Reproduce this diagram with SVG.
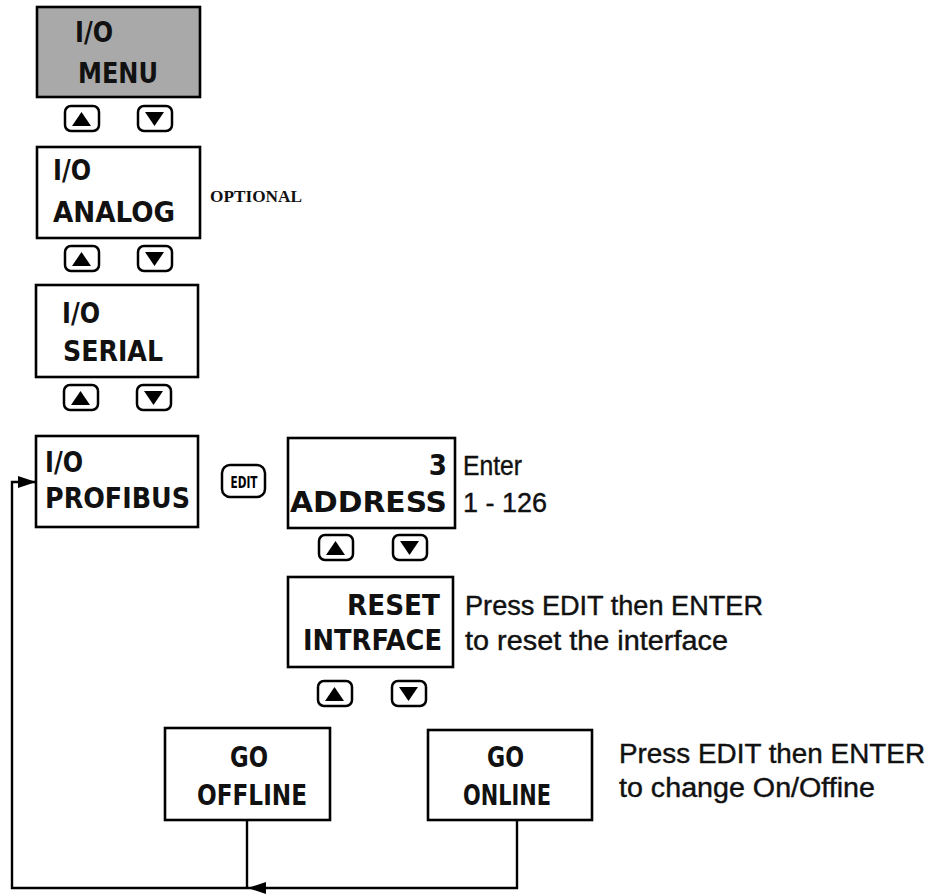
<svg xmlns="http://www.w3.org/2000/svg" xmlns:xlink="http://www.w3.org/1999/xlink" width="927" height="894" viewBox="0 0 927 894">
<style>
.box{fill:#fff;stroke:#000;stroke-width:2.6}
.lcd{font-family:"DejaVu Sans Condensed","DejaVu Sans",sans-serif;font-weight:bold;font-stretch:condensed;font-size:29px;fill:#111}
.note{font-family:"Liberation Sans",Arial,sans-serif;font-size:27px;fill:#111;stroke:#111;stroke-width:0.4}
.btn{fill:#fff;stroke:#000;stroke-width:2.5}
.wire{fill:none;stroke:#000;stroke-width:2.4}
</style>
<defs>
<g id="up"><rect class="btn" x="1" y="1" width="34" height="25" rx="6"/><polygon points="8,21 17.5,7 27,21" fill="#000"/></g>
<g id="down"><rect class="btn" x="1" y="1" width="34" height="25" rx="6"/><polygon points="8,7 27,7 17.5,21" fill="#000"/></g>
<marker id="arr" viewBox="0 0 18 12" refX="18" refY="6" markerWidth="18" markerHeight="12" markerUnits="userSpaceOnUse" orient="auto"><polygon points="0,0 18,6 0,12" fill="#000"/></marker>
</defs>
<rect width="927" height="894" fill="#fff"/>

<g id="menu">
<rect x="37" y="7" width="163" height="90" fill="#a9a9a9" stroke="#000" stroke-width="2.6"/>
<text class="lcd" x="75" y="42" textLength="38" lengthAdjust="spacingAndGlyphs">I/O</text>
<text class="lcd" x="78" y="83" textLength="80" lengthAdjust="spacingAndGlyphs">MENU</text>
</g>
<g id="buttons1"><use xlink:href="#up" x="64" y="105"/><use xlink:href="#down" x="137" y="105"/></g>

<g id="analog">
<rect class="box" x="37" y="147" width="163" height="91"/>
<text class="lcd" x="53" y="180" textLength="38" lengthAdjust="spacingAndGlyphs">I/O</text>
<text class="lcd" x="53" y="222" textLength="122" lengthAdjust="spacingAndGlyphs">ANALOG</text>
</g>
<text x="210" y="202" font-family="Liberation Serif,serif" font-weight="bold" font-size="16" textLength="92" lengthAdjust="spacingAndGlyphs" fill="#111">OPTIONAL</text>
<g id="buttons2"><use xlink:href="#up" x="64" y="245"/><use xlink:href="#down" x="137" y="245"/></g>

<g id="serial">
<rect class="box" x="36" y="285" width="162" height="92"/>
<text class="lcd" x="62" y="323" textLength="38" lengthAdjust="spacingAndGlyphs">I/O</text>
<text class="lcd" x="63" y="361" textLength="100" lengthAdjust="spacingAndGlyphs">SERIAL</text>
</g>
<g id="buttons3"><use xlink:href="#up" x="63" y="384"/><use xlink:href="#down" x="136" y="384"/></g>

<g id="profibus">
<rect class="box" x="36" y="436" width="162" height="91"/>
<text class="lcd" x="45" y="472" textLength="38" lengthAdjust="spacingAndGlyphs">I/O</text>
<text class="lcd" x="45" y="508" textLength="145" lengthAdjust="spacingAndGlyphs">PROFIBUS</text>
</g>

<g id="edit">
<rect class="btn" x="222" y="465" width="43" height="32" rx="8"/>
<text x="244" y="488" text-anchor="middle" font-family="DejaVu Sans Condensed,DejaVu Sans,sans-serif" font-weight="bold" font-size="16" textLength="27" lengthAdjust="spacingAndGlyphs" fill="#000">EDIT</text>
</g>

<g id="address">
<rect class="box" x="288" y="438" width="167" height="90"/>
<text class="lcd" x="447" y="475" text-anchor="end">3</text>
<text class="lcd" x="290" y="512" textLength="157" lengthAdjust="spacingAndGlyphs">ADDRESS</text>
</g>
<text class="note" x="463" y="475" textLength="59" lengthAdjust="spacingAndGlyphs">Enter</text>
<text class="note" x="463" y="512" textLength="84" lengthAdjust="spacingAndGlyphs">1 - 126</text>
<g id="buttons4"><use xlink:href="#up" x="318" y="534"/><use xlink:href="#down" x="392" y="534"/></g>

<g id="reset">
<rect class="box" x="288" y="577" width="165" height="90"/>
<text class="lcd" x="347" y="615" textLength="93" lengthAdjust="spacingAndGlyphs">RESET</text>
<text class="lcd" x="303" y="650" textLength="139" lengthAdjust="spacingAndGlyphs">INTRFACE</text>
</g>
<text class="note" x="465" y="615" textLength="298" lengthAdjust="spacingAndGlyphs">Press EDIT then ENTER</text>
<text class="note" x="465" y="650" textLength="263" lengthAdjust="spacingAndGlyphs">to reset the interface</text>
<g id="buttons5"><use xlink:href="#up" x="317" y="680"/><use xlink:href="#down" x="391" y="680"/></g>

<g id="offline">
<rect class="box" x="165" y="728" width="165" height="92"/>
<text class="lcd" x="230" y="767" textLength="38" lengthAdjust="spacingAndGlyphs">GO</text>
<text class="lcd" x="197" y="805" textLength="110" lengthAdjust="spacingAndGlyphs">OFFLINE</text>
</g>

<g id="online">
<rect class="box" x="428" y="730" width="164" height="90"/>
<text class="lcd" x="487" y="767" textLength="37" lengthAdjust="spacingAndGlyphs">GO</text>
<text class="lcd" x="463" y="805" textLength="88" lengthAdjust="spacingAndGlyphs">ONLINE</text>
</g>
<text class="note" x="619" y="763" textLength="306" lengthAdjust="spacingAndGlyphs">Press EDIT then ENTER</text>
<text class="note" x="619" y="797" textLength="256" lengthAdjust="spacingAndGlyphs">to change On/Offine</text>

<g id="connectors">
<path class="wire" d="M517,820 V888 H248" marker-end="url(#arr)"/>
<path class="wire" d="M247,820 V888"/>
<path class="wire" d="M248,888 H12 V482 H36" marker-end="url(#arr)"/>
</g>
</svg>
